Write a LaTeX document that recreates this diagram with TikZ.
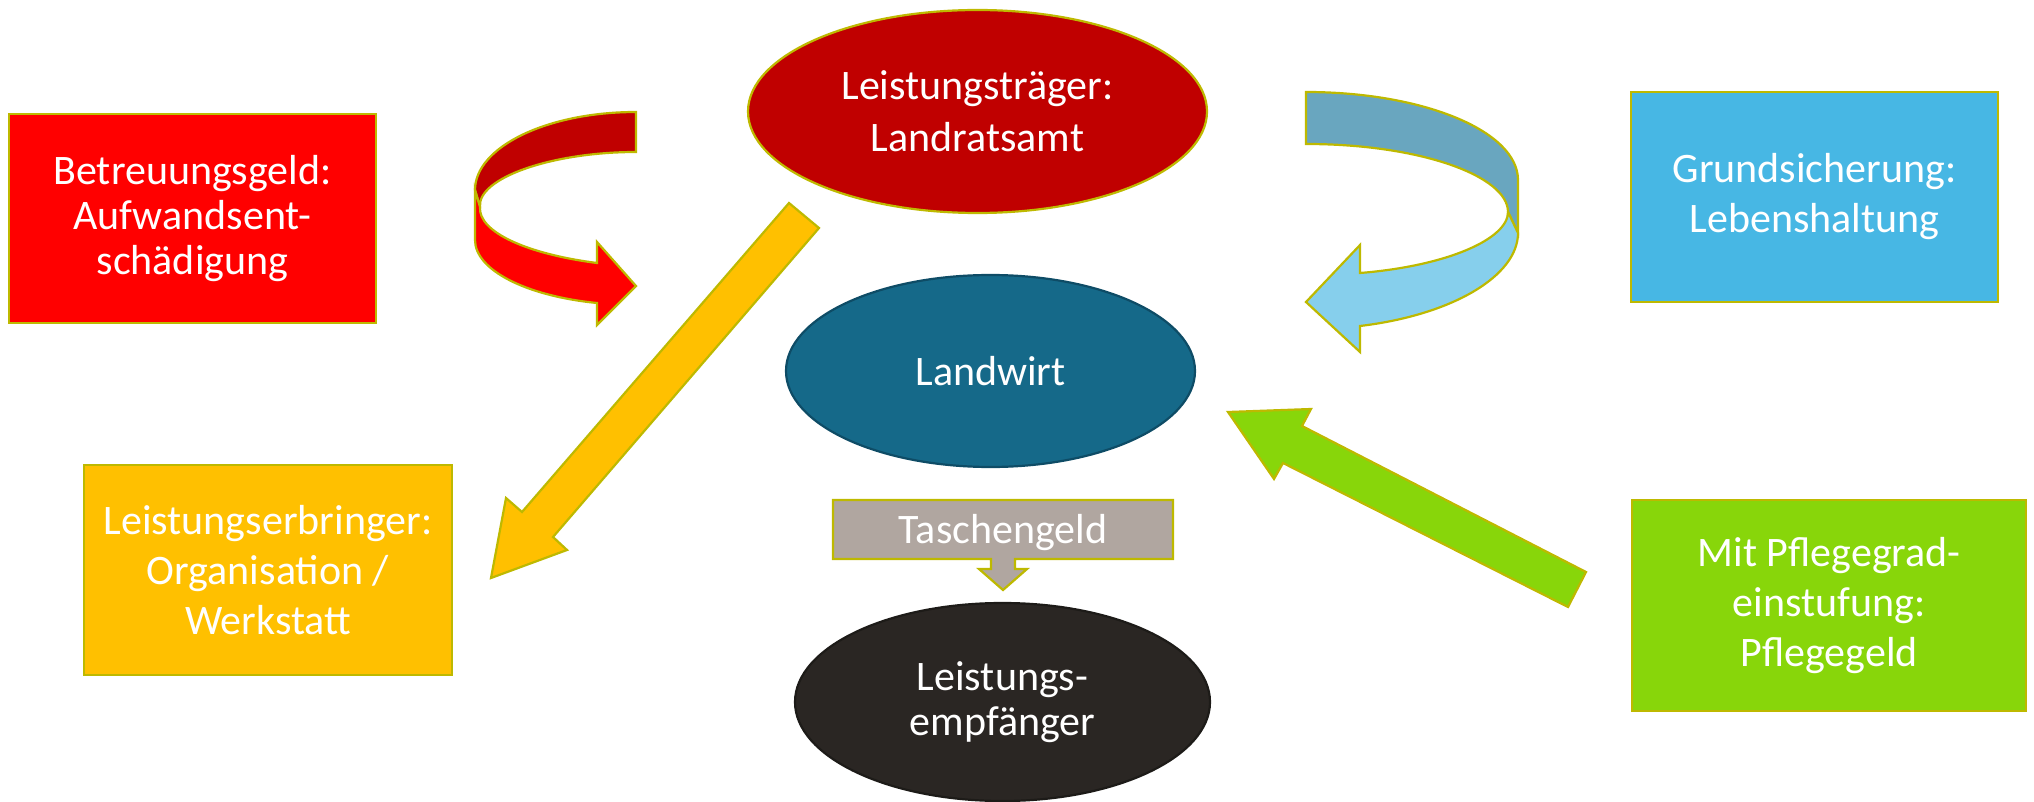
\documentclass[tikz,border=0pt]{standalone}
\usepackage{fontspec}
\setmainfont{Carlito}
\usetikzlibrary{shapes.geometric}
\definecolor{edgeol}{RGB}{190,185,0}
\definecolor{redbox}{RGB}{255,0,0}
\definecolor{darkred}{RGB}{192,0,0}
\definecolor{lwblue}{RGB}{21,105,137}
\definecolor{lwedge}{RGB}{14,76,102}
\definecolor{leblack}{RGB}{42,38,35}
\definecolor{tgray}{RGB}{176,166,160}
\definecolor{gsblue}{RGB}{71,183,228}
\definecolor{yel}{RGB}{255,192,0}
\definecolor{grn}{RGB}{136,214,10}
\definecolor{arrback}{RGB}{105,166,191}
\definecolor{arrfront}{RGB}{134,207,236}
\begin{document}
\begin{tikzpicture}[x=0.5pt,y=-0.5pt,
  txt/.style={text=white, align=center, inner sep=0pt, font=\fontsize{21}{25}\selectfont},
  txtsm/.style={text=white, align=center, inner sep=0pt, font=\fontsize{21}{22.5}\selectfont},
  boxshape/.style={draw=edgeol, line width=1.3pt, inner sep=0pt},
  ovalshape/.style={ellipse, line width=1.1pt, inner sep=0pt},
  arrshape/.style={draw=edgeol, line width=1.1pt, line join=miter},
]
\useasboundingbox (0,0) rectangle (2034,802);

% curved red arrow
\coordinate (rA) at (636,112);
\coordinate (rB) at (636,152);
\coordinate (rP1) at (475,190);
\coordinate (rP2) at (480,207);
\coordinate (rP3) at (597,263);
\coordinate (rH1) at (597,242);
\coordinate (rT) at (636,286);
\coordinate (rH2) at (597,325);
\coordinate (rP4) at (597,303);
\coordinate (rP5) at (475,240);
\draw[arrshape, fill=darkred] (rA) .. controls (547,112) and (475,147) .. (rP1)
  -- (rP2) .. controls (477,178) and (552,152) .. (rB) -- cycle;
\draw[arrshape, fill=redbox] (rP1) -- (rP2) .. controls (478,232) and (527,254) .. (rP3)
  -- (rH1) -- (rT) -- (rH2) -- (rP4) .. controls (526,296) and (475,270) .. (rP5) -- cycle;

% curved blue arrow
\coordinate (bA) at (1306,92);
\coordinate (bB) at (1306,144);
\coordinate (bP1) at (1518,180);
\coordinate (bP5) at (1518,233);
\coordinate (bP2) at (1508,212);
\coordinate (bP3) at (1360,273);
\coordinate (bH1) at (1360,245);
\coordinate (bT) at (1306,302);
\coordinate (bH2) at (1360,352);
\coordinate (bP4) at (1360,326);
\draw[arrshape, fill=arrback] (bA) .. controls (1423,92) and (1518,131) .. (bP1)
  -- (bP5) -- (bP2) .. controls (1508,176) and (1420,144) .. (bB) -- cycle;
\draw[arrshape, fill=arrfront] (bP2) .. controls (1508,239) and (1447,266) .. (bP3)
  -- (bH1) -- (bT) -- (bH2) -- (bP4) .. controls (1452,315) and (1518,276) .. (bP5) -- cycle;

% straight yellow arrow
\draw[arrshape, fill=yel] (789,203) -- (819,228) -- (553,537) -- (567,550) -- (491,578)
  -- (506,498) -- (522,512) -- cycle;

% straight green arrow
\draw[arrshape, fill=grn] (1228,412) -- (1311,409) -- (1302,426) -- (1586,572)
  -- (1568,607) -- (1283,463) -- (1274,479) -- cycle;

% boxes
\node[boxshape, fill=redbox, minimum width=183.5pt, minimum height=104.5pt] (betr) at (192.5,218.5) {};
\node[txtsm] at (betr.center) {Betreuungsgeld:\\Aufwandsent-\\schädigung};
\node[boxshape, fill=yel, minimum width=184pt, minimum height=105pt] (erbr) at (268,570) {};
\node[txt] at (erbr.center) {Leistungserbringer:\\Organisation /\\Werkstatt};
\node[boxshape, fill=gsblue, minimum width=183.5pt, minimum height=105pt] (grund) at (1814.5,197) {};
\node[txt] at (grund.center) {Grundsicherung:\\Lebenshaltung};
\node[boxshape, fill=grn, minimum width=197pt, minimum height=105.5pt] (pflege) at (1829,605.5) {};
\node[txt] at (pflege.center) {Mit Pflegegrad-\\einstufung:\\Pflegegeld};

% ellipses
\node[ovalshape, draw=edgeol, fill=darkred, minimum width=229.5pt, minimum height=101.5pt] (traeger) at (977.5,111.5) {};
\node[txt, font=\fontsize{21}{26}\selectfont] at (traeger.center) {Leistungsträger:\\Landratsamt};
\node[ovalshape, draw=lwedge, fill=lwblue, minimum width=204.5pt, minimum height=96pt] (landwirt) at (990.5,371) {};
\node[txt] at (landwirt.center) {Landwirt};
\node[ovalshape, draw=leblack!70!black, fill=leblack, minimum width=207.5pt, minimum height=99pt] (empf) at (1002.5,702) {};
\node[txtsm] at (empf.center) {Leistungs-\\empfänger};

% Taschengeld callout
\draw[arrshape, fill=tgray] (833,500) -- (1173,500) -- (1173,559) -- (1015,559) -- (1015,569)
  -- (1027,569) -- (1003,590) -- (979,569) -- (991,569) -- (991,559) -- (833,559) -- cycle;
\node[txt, anchor=base] (tgeld) at (1003,543) {Taschengeld};
\end{tikzpicture}
\end{document}
